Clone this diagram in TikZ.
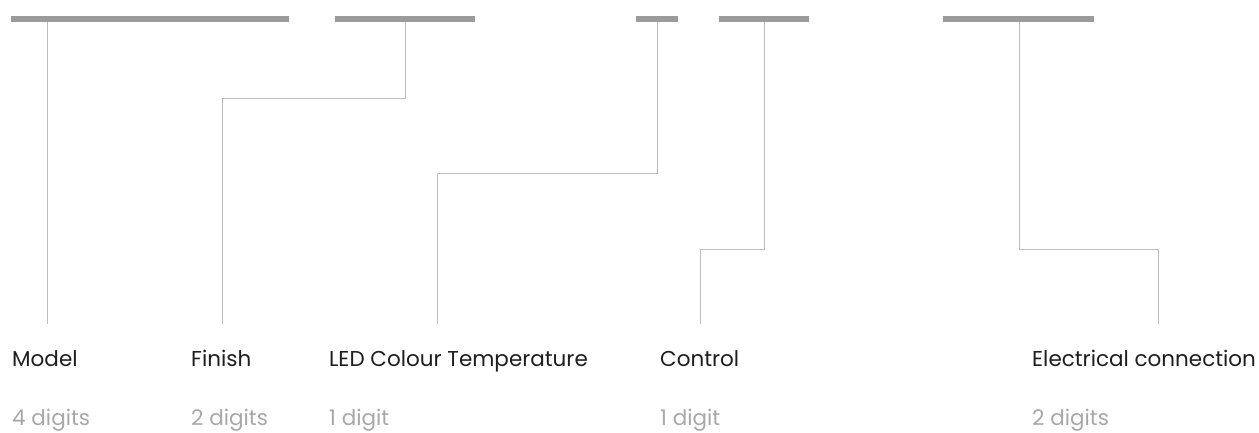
\documentclass[tikz,border=0pt]{standalone}
\usepackage{fontspec}
\setmainfont{Poppins}
\begin{document}
\begin{tikzpicture}[x=1pt,y=-1pt,
  bar/.style={fill=barcol,draw=none,inner sep=0pt,minimum height=6.5pt,anchor=west},
  conn/.style={draw=linecol,line width=1pt},
  lab/.style={anchor=base west,inner sep=0pt,text=labcol,font=\fontsize{21.5}{26}\selectfont},
  dig/.style={anchor=base west,inner sep=0pt,text=digcol,font=\fontsize{21.5}{26}\selectfont}]
\definecolor{barcol}{HTML}{9B9B9B}
\definecolor{linecol}{HTML}{BDBDBD}
\definecolor{labcol}{HTML}{1E1E1E}
\definecolor{digcol}{HTML}{A8A8A8}
\useasboundingbox (0,0) rectangle (1259,432);
% bars
\node[bar,minimum width=278pt] (b1) at (11,19) {};
\node[bar,minimum width=140pt] (b2) at (335,19) {};
\node[bar,minimum width=42pt] (b3) at (636,19) {};
\node[bar,minimum width=90pt] (b4) at (719,19) {};
\node[bar,minimum width=151pt] (b5) at (943,19) {};
% labels
\node[lab] (l1) at (12,366) {Model};
\node[lab] (l2) at (191,366) {Finish};
\node[lab] (l3) at (329,366) {LED Colour Temperature};
\node[lab] (l4) at (660,366) {Control};
\node[lab] (l5) at (1032,366) {Electrical connection};
\node[dig] (d1) at (12,425) {4 digits};
\node[dig] (d2) at (191,425) {2 digits};
\node[dig] (d3) at (329,425) {1 digit};
\node[dig] (d4) at (660,425) {1 digit};
\node[dig] (d5) at (1032,425) {2 digits};
% connector end points
\coordinate (e1) at (47,324);
\coordinate (e2) at (222,324);
\coordinate (e3) at (437,324);
\coordinate (e4) at (700,324);
\coordinate (e5) at (1158,324);
% connectors
\draw[conn] (b1.south -| e1) -- (e1);
\draw[conn] (b2.south -| 405,0) |- (0,98 -| e2) -- (e2);
\draw[conn] (b3.south -| 657,0) |- (0,173.5 -| e3) -- (e3);
\draw[conn] (b4.south -| 764,0) |- (0,249 -| e4) -- (e4);
\draw[conn] (b5.south -| 1019,0) |- (0,249 -| e5) -- (e5);
\end{tikzpicture}
\end{document}
